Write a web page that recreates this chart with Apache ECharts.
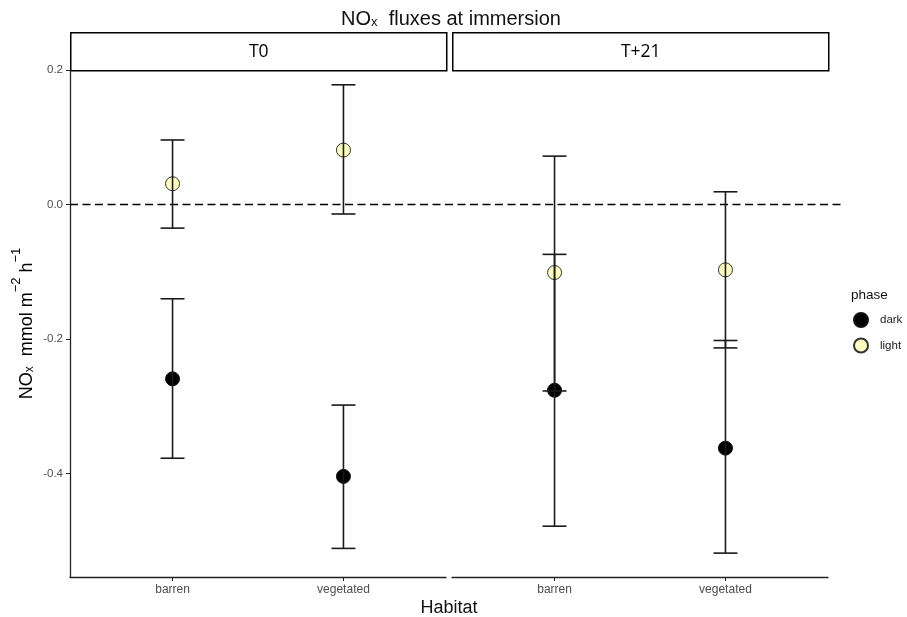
<!DOCTYPE html>
<html>
<head>
<meta charset="utf-8">
<title>NOx fluxes at immersion</title>
<script src="https://cdn.jsdelivr.net/npm/echarts@6/dist/echarts.min.js"></script>
<style>
  html, body { margin: 0; padding: 0; background: #fff; }
  #chart { width: 907px; height: 617px; }
</style>
</head>
<body>
<div id="chart"></div>
<script>
// facets, categories, ticks
const PANELS = ['T0', 'T+21'];
const HABITATS = ['barren', 'vegetated'];
const Y_TICKS = [-0.4, -0.2, 0, 0.2];

// per panel: [barren, vegetated]
const darkMean = [[-0.259, -0.404], [-0.276, -0.362]];
const darkLower = [[-0.377, -0.511], [-0.478, -0.518]];
const darkUpper = [[-0.140, -0.298], [-0.074, -0.202]];

const lightMean = [[0.031, 0.081], [-0.101, -0.097]];
const lightLower = [[-0.035, -0.014], [-0.277, -0.213]];
const lightUpper = [[0.096, 0.178], [0.072, 0.019]];

const FONT = 'Liberation Sans, Arial, sans-serif';
const AXIS_COLOR = '#222';
const TICK_TEXT = '#4D4D4D';
const DARK_FILL = '#000000';
const LIGHT_FILL = '#FFFFC0';
const Y_MIN = -0.5535;
const Y_MAX = 0.2;

const chart = echarts.init(document.getElementById('chart'));

const grids = [
  { left: 70, top: 70, width: 376, height: 507 },
  { left: 452, top: 70, width: 376, height: 507 },
  { left: 70, top: 70, width: 773, height: 507 } // zero reference line
];

const xAxes = PANELS.map((p, i) => ({
  type: 'value',
  gridIndex: i,
  min: 0.4,
  max: 2.6,
  position: 'bottom',
  axisLine: { show: true, onZero: false, lineStyle: { color: AXIS_COLOR, width: 1.3 } },
  axisTick: { show: true, length: 4, customValues: [1, 2], lineStyle: { color: AXIS_COLOR } },
  axisLabel: {
    show: true,
    customValues: [1, 2],
    margin: 7,
    fontSize: 12,
    fontFamily: FONT,
    color: TICK_TEXT,
    formatter: (v) => HABITATS[Math.round(v) - 1] || ''
  },
  splitLine: { show: false }
}));
xAxes.push({ type: 'value', gridIndex: 2, min: 0, max: 1, show: false });

const yAxes = [
  {
    type: 'value',
    gridIndex: 0,
    min: Y_MIN,
    max: Y_MAX,
    axisLine: { show: true, onZero: false, lineStyle: { color: AXIS_COLOR, width: 1.3 } },
    axisTick: { show: true, length: 4, customValues: Y_TICKS, lineStyle: { color: AXIS_COLOR } },
    axisLabel: {
      customValues: Y_TICKS,
      margin: 7,
      fontSize: 11.5,
      fontFamily: FONT,
      color: TICK_TEXT,
      formatter: (v) => v.toFixed(1)
    },
    splitLine: { show: false },
    name: '{a|NO}{s|x}{a|  mmol m}{p|\u22122}{a| h}{p|\u22121}',
    nameLocation: 'middle',
    nameGap: 34,
    nameTextStyle: {
      fontFamily: FONT,
      rich: {
        a: { fontSize: 18, fontFamily: FONT, color: '#000', lineHeight: 26, verticalAlign: 'bottom' },
        s: { fontSize: 12, fontFamily: FONT, color: '#000', lineHeight: 2, verticalAlign: 'bottom' },
        p: { fontSize: 13, fontFamily: FONT, color: '#000', lineHeight: 12, verticalAlign: 'top' }
      }
    }
  },
  { type: 'value', gridIndex: 1, min: Y_MIN, max: Y_MAX, show: false, splitLine: { show: false } },
  { type: 'value', gridIndex: 2, min: Y_MIN, max: Y_MAX, show: false, splitLine: { show: false } }
];

function errorBarItem(params, api) {
  const x = api.value(0);
  const lo = api.coord([x, api.value(1)]);
  const hi = api.coord([x, api.value(2)]);
  const capL = api.coord([x - 0.07, 0])[0];
  const capR = api.coord([x + 0.07, 0])[0];
  const style = { stroke: '#1a1a1a', lineWidth: 1.6 };
  return {
    type: 'group',
    children: [
      { type: 'line', shape: { x1: lo[0], y1: lo[1], x2: hi[0], y2: hi[1] }, style },
      { type: 'line', shape: { x1: capL, y1: lo[1], x2: capR, y2: lo[1] }, style },
      { type: 'line', shape: { x1: capL, y1: hi[1], x2: capR, y2: hi[1] }, style }
    ]
  };
}

const series = [
  {
    type: 'line',
    xAxisIndex: 2,
    yAxisIndex: 2,
    data: [[0, 0], [1, 0]],
    symbol: 'none',
    silent: true,
    z: 1,
    lineStyle: { color: '#000', width: 1.5, type: [8, 4.5] }
  }
];

PANELS.forEach((p, pi) => {
  const phases = [
    { name: 'dark', mean: darkMean[pi], lo: darkLower[pi], hi: darkUpper[pi], fill: DARK_FILL, border: '#111' },
    { name: 'light', mean: lightMean[pi], lo: lightLower[pi], hi: lightUpper[pi], fill: LIGHT_FILL, border: '#333' }
  ];
  phases.forEach((ph) => {
    series.push({
      name: ph.name,
      type: 'scatter',
      xAxisIndex: pi,
      yAxisIndex: pi,
      symbol: 'circle',
      symbolSize: 14,
      z: 2,
      itemStyle: { color: ph.fill, borderColor: ph.border, borderWidth: 1, opacity: 1 },
      data: HABITATS.map((h, i) => [i + 1, ph.mean[i]])
    });
    series.push({
      type: 'custom',
      xAxisIndex: pi,
      yAxisIndex: pi,
      z: 3,
      silent: true,
      renderItem: errorBarItem,
      data: HABITATS.map((h, i) => [i + 1, ph.lo[i], ph.hi[i]])
    });
  });
});

const strips = PANELS.map((p, i) => ({
  type: 'group',
  left: grids[i].left,
  top: 32,
  children: [
    { type: 'rect', shape: { x: 0, y: 0, width: grids[i].width, height: 38 },
      style: { fill: '#fff', stroke: '#000', lineWidth: 1.5 } },
    { type: 'text', x: grids[i].width / 2, y: 19,
      style: { text: p, fontSize: 17.5, fontFamily: 'Open Sans, sans-serif', fill: '#000',
               align: 'center', verticalAlign: 'middle' } }
  ]
}));

const option = {
  animation: false,
  backgroundColor: '#fff',
  grid: grids,
  xAxis: xAxes,
  yAxis: yAxes,
  legend: {
    data: ['dark', 'light'],
    orient: 'vertical',
    left: 853,
    top: 312,
    padding: 0,
    itemWidth: 14,
    itemHeight: 14,
    itemGap: 9.5,
    selectedMode: false,
    textStyle: { fontSize: 11.5, fontFamily: FONT, color: '#222', padding: [0, 0, 0, 7] }
  },
  graphic: [
    {
      type: 'text',
      x: 451,
      y: 16,
      style: {
        text: '{a|NO}{s|x}{a|  fluxes at immersion}',
        align: 'center',
        verticalAlign: 'middle',
        rich: {
          a: { fontSize: 20, fontFamily: FONT, fill: '#111', lineHeight: 26, verticalAlign: 'bottom' },
          s: { fontSize: 13, fontFamily: FONT, fill: '#111', lineHeight: 1, verticalAlign: 'bottom' }
        }
      }
    },
    {
      type: 'text',
      x: 449,
      y: 608,
      style: { text: 'Habitat', fontSize: 18, fontFamily: FONT, fill: '#111', align: 'center', verticalAlign: 'middle' }
    },
    {
      type: 'text',
      x: 851,
      y: 295,
      style: { text: 'phase', fontSize: 13.5, fontFamily: FONT, fill: '#111', align: 'left', verticalAlign: 'middle' }
    },
    ...strips
  ],
  series
};

chart.setOption(option);
</script>
</body>
</html>
